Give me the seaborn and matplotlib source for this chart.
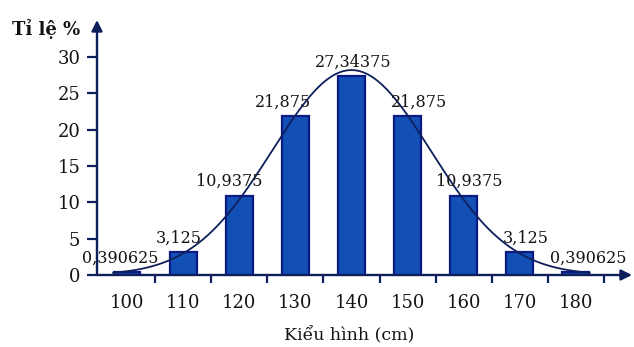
import numpy as np
import pandas as pd
import seaborn as sns
import matplotlib.pyplot as plt

# Phenotype classes (cm) and their share of the offspring (%)
heights = [100, 110, 120, 130, 140, 150, 160, 170, 180]
percent = [0.390625, 3.125, 10.9375, 21.875, 27.34375, 21.875, 10.9375, 3.125, 0.390625]
value_labels = ["0,390625", "3,125", "10,9375", "21,875", "27,34375",
                "21,875", "10,9375", "3,125", "0,390625"]
y_ticks = [0, 5, 10, 15, 20, 25, 30]

navy = "#0f1f5c"
bar_fill = "#1250b6"
bar_edge = "#0a1a82"
ink = "#141414"

sns.set_theme(style="white")
plt.rcParams["font.family"] = ["DejaVu Serif"]

df = pd.DataFrame({"height": [str(h) for h in heights], "percent": percent})

fig = plt.figure(figsize=(6.34, 3.47), dpi=100)
fig.patch.set_facecolor("white")
ax = fig.add_axes([97 / 634, 1 - 275 / 347, 535 / 634, 255 / 347])
ax.set_facecolor("white")

sns.barplot(data=df, x="height", y="percent", color=bar_fill, saturation=1,
            edgecolor=bar_edge, linewidth=1.6, width=0.48, ax=ax, zorder=2)

# Normal curve fitted to the distribution (same mean and variance)
h = np.array(heights, dtype=float)
w = np.array(percent) / np.sum(percent)
mean = np.sum(h * w)
sd = np.sqrt(np.sum((h - mean) ** 2 * w))
step = h[1] - h[0]
xs = np.linspace(h[0] - 2.5, h[-1] + 2.5, 400)
ys = np.sum(percent) * step / (sd * np.sqrt(2 * np.pi)) * np.exp(-0.5 * ((xs - mean) / sd) ** 2)
ax.plot((xs - h[0]) / step, ys, color=navy, lw=1.3, zorder=3)

# Value labels above each bar
label_shift = [-5, -3, -7, -9, 1, 8, 4, 4, 9]
for i, (v, lbl) in enumerate(zip(percent, value_labels)):
    ax.annotate(lbl, (i, v), xytext=(label_shift[i], 4), textcoords="offset points",
                ha="center", va="bottom", fontsize=11.5, color=ink, zorder=4)

ax.set_xlim(-0.535, 9.0)
ax.set_ylim(0, 35.1)
ax.set_yticks(y_ticks)
ax.set_yticklabels([str(t) for t in y_ticks], fontsize=13, color=ink)
ax.set_xticks(range(len(heights)))
ax.set_xticklabels([str(x) for x in heights], fontsize=13, color=ink)
ax.set_xticks(np.arange(0.5, len(heights), 1), minor=True)

ax.tick_params(axis="x", which="major", length=0, pad=14)
ax.tick_params(axis="x", which="minor", length=6, width=1.6, color=navy, direction="out", bottom=True)
ax.tick_params(axis="y", which="major", length=7, width=1.6, color=navy, direction="out", pad=5, left=True)

for s in ax.spines.values():
    s.set_visible(False)

# Axes with arrowheads
arrow = dict(arrowstyle="-|>", color=navy, lw=1.7, mutation_scale=16, shrinkA=0, shrinkB=0)
ax.annotate("", xy=(0, 1), xytext=(0, 0), xycoords="axes fraction", arrowprops=arrow, annotation_clip=False)
ax.annotate("", xy=(1, 0), xytext=(0, 0), xycoords="axes fraction", arrowprops=arrow, annotation_clip=False)

ax.set_xlabel("Kiểu hình (cm)", fontsize=12.5, color=ink)
ax.xaxis.set_label_coords((349 - 97) / 535, -0.205)
ax.set_ylabel("")
fig.text(12 / 634, 1 - 29 / 347, "Tỉ lệ %", ha="left", va="center",
         fontsize=13, fontweight="bold", color=ink)

fig.savefig("out.png", dpi=100, facecolor="white")
